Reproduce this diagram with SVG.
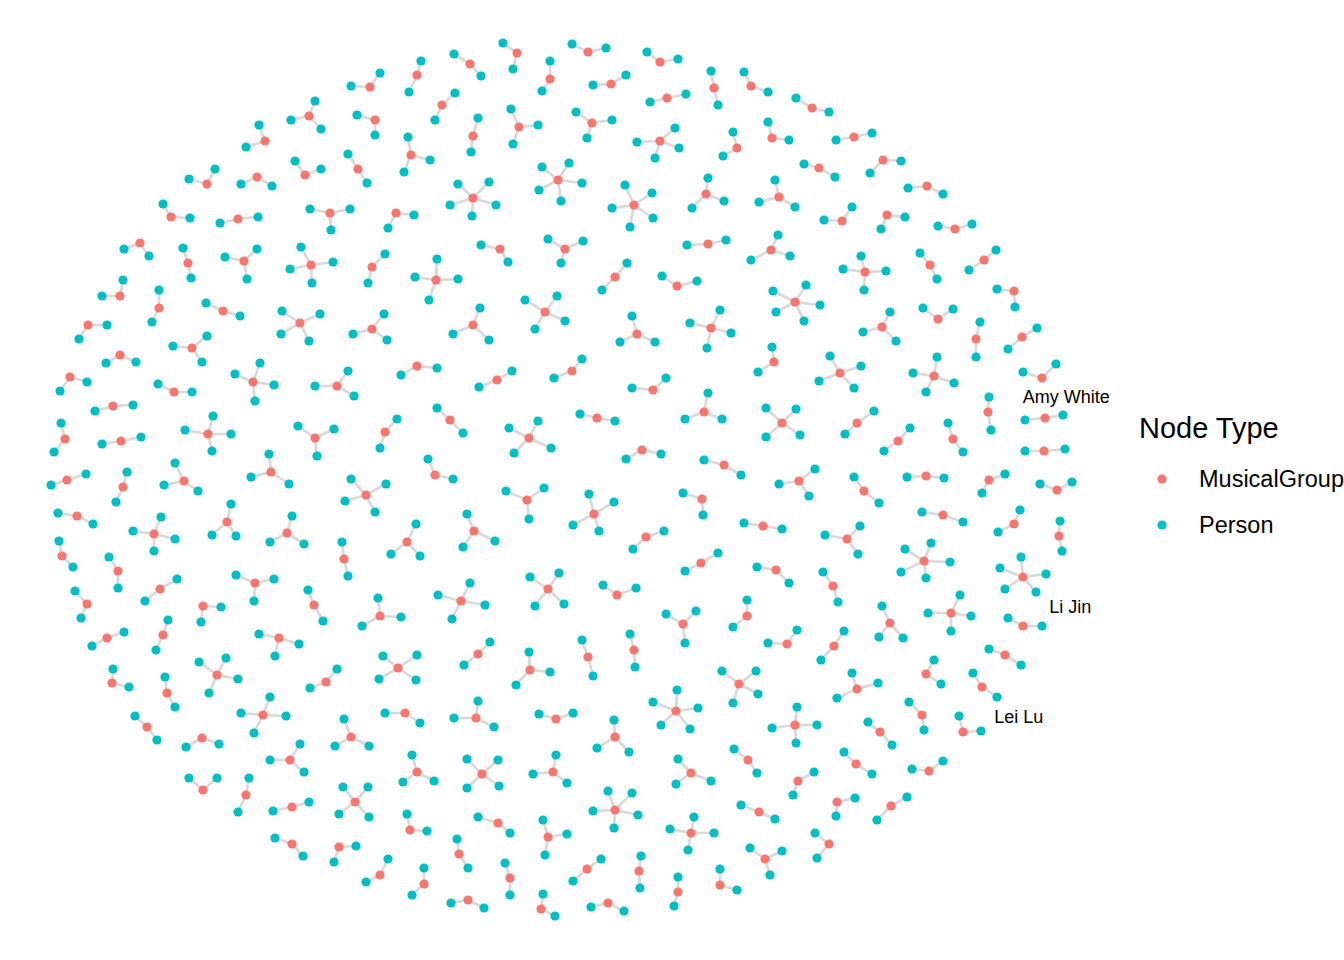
<svg xmlns="http://www.w3.org/2000/svg" width="1344" height="960" viewBox="0 0 1344 960">
<style>
#connectors path{stroke:#d9d9d9;stroke-width:2.7;fill:none;stroke-linecap:round;stroke-linejoin:round}
circle{fill:#00BFC4;r:4.6px}
circle.m{fill:#F8766D}
text{font-family:"Liberation Sans",Arial,Helvetica,sans-serif;fill:#000}
.lbl{font-size:18px}
.lt{font-size:29px}
.lk{font-size:23.5px}
</style>
<rect width="1344" height="960" fill="#fff"/>
<g id="connectors">
<path d="M380 73L370 87L351 86"/>
<path d="M315 101L309 116L291 120M309 116L321 129"/>
<path d="M357 115L375 120L375 135"/>
<path d="M259 125L265 141L246 147"/>
<path d="M295 161L305 175L321 169"/>
<path d="M348 154L358 169L367 183"/>
<path d="M189 179L207 184L215 169"/>
<path d="M241 184L257 177L272 186"/>
<path d="M163 204L171 217L190 218"/>
<path d="M220 223L238 219L258 217"/>
<path d="M310 209L330 213L350 209M330 213L331 230"/>
<path d="M124 249L140 243L149 256"/>
<path d="M183 248L188 263L191 278"/>
<path d="M225 257L244 261L257 249M244 261L247 279"/>
<path d="M301 247L311 265L333 262M311 265L290 269M311 265L312 283"/>
<path d="M385 254L372 267L368 283"/>
<path d="M388 228L396 213L414 215"/>
<path d="M123 280L120 296L102 296"/>
<path d="M159 290L159 308L152 322"/>
<path d="M206 303L223 311L240 316"/>
<path d="M282 311L300 323L320 314M300 323L281 334M300 323L309 341"/>
<path d="M384 314L372 329L353 334M372 329L387 340"/>
<path d="M107 325L88 325L79 339"/>
<path d="M173 346L192 348L207 336M192 348L202 362"/>
<path d="M106 363L120 355L136 362"/>
<path d="M60 391L70 377L87 382"/>
<path d="M260 363L253 382L235 374M253 382L274 385M253 382L255 401"/>
<path d="M315 386L337 386L348 371M337 386L354 396"/>
<path d="M158 384L174 392L192 392"/>
<path d="M95 411L113 406L133 405"/>
<path d="M213 416L208 434L185 430M208 434L231 434M208 434L212 451"/>
<path d="M298 426L315 438L334 429M315 438L317 456"/>
<path d="M61 423L65 439L54 452"/>
<path d="M102 444L121 441L141 437"/>
<path d="M397 419L385 432L380 448"/>
<path d="M269 454L271 472L251 477M271 472L289 484"/>
<path d="M51 485L67 480L86 474"/>
<path d="M127 472L123 487L116 502"/>
<path d="M175 463L184 481L164 485M184 481L198 491"/>
<path d="M351 479L366 495L386 484M366 495L345 501M366 495L375 512"/>
<path d="M58 513L77 516L93 524"/>
<path d="M133 531L154 534L161 517M154 534L175 539M154 534L154 551"/>
<path d="M231 504L227 522L212 535M227 522L236 536"/>
<path d="M292 516L287 533L270 542M287 533L304 544"/>
<path d="M59 541L62 556L73 567"/>
<path d="M109 557L118 571L118 588"/>
<path d="M342 542L344 559L348 576"/>
<path d="M177 579L160 589L145 601"/>
<path d="M236 575L255 583L274 579M255 583L254 601"/>
<path d="M75 591L87 604L81 618"/>
<path d="M221 607L203 606L201 622"/>
<path d="M308 590L314 605L323 621"/>
<path d="M378 598L380 616L362 626M380 616L401 617"/>
<path d="M124 632L107 638L92 646"/>
<path d="M168 620L163 635L156 650"/>
<path d="M259 634L279 638L299 644M279 638L275 656"/>
<path d="M113 669L112 683L129 687"/>
<path d="M165 677L167 693L175 707"/>
<path d="M199 662L217 675L226 658M217 675L238 679M217 675L209 693"/>
<path d="M337 669L326 682L310 688"/>
<path d="M383 656L398 668L417 655M398 668L416 680M398 668L379 679"/>
<path d="M270 697L263 715L241 713M263 715L286 716M263 715L254 733"/>
<path d="M135 716L147 727L157 740"/>
<path d="M385 713L405 713L420 723"/>
<path d="M186 747L202 738L219 744"/>
<path d="M270 760L290 760L300 744M290 760L304 772"/>
<path d="M344 719L351 737L335 746M351 737L369 746"/>
<path d="M189 778L203 790L217 778"/>
<path d="M249 778L246 795L238 812"/>
<path d="M273 811L292 807L309 802"/>
<path d="M343 787L355 802L368 787M355 802L339 814M355 802L369 817"/>
<path d="M275 838L292 844L303 856"/>
<path d="M356 846L339 847L334 862"/>
<path d="M388 859L380 875L366 882"/>
<path d="M421 61L417 75L409 92"/>
<path d="M454 54L470 64L481 76"/>
<path d="M503 43L517 53L513 69"/>
<path d="M550 61L550 79L542 91"/>
<path d="M572 44L588 52L606 48"/>
<path d="M647 52L660 62L678 59"/>
<path d="M711 71L714 88L718 105"/>
<path d="M593 85L611 84L626 75"/>
<path d="M650 102L667 98L686 94"/>
<path d="M455 93L442 105L435 120"/>
<path d="M478 118L473 136L471 152"/>
<path d="M511 109L519 127L538 125M519 127L513 144"/>
<path d="M576 112L592 123L612 120M592 123L587 138"/>
<path d="M675 128L660 141L637 142M660 141L679 148M660 141L655 158"/>
<path d="M408 137L411 155L430 160M411 155L404 172"/>
<path d="M733 132L737 148L723 156"/>
<path d="M542 167L558 180L569 163M558 180L582 183M558 180L561 201M558 180L539 190"/>
<path d="M458 184L473 198L489 182M473 198L496 205M473 198L472 216M473 198L450 205"/>
<path d="M625 185L634 205L652 193M634 205L653 218M634 205L630 227M634 205L612 208"/>
<path d="M708 178L706 194L724 201M706 194L692 208"/>
<path d="M687 245L708 244L726 240"/>
<path d="M548 239L565 249L583 241M565 249L561 263"/>
<path d="M481 245L500 249L508 262"/>
<path d="M437 259L436 280L415 277M436 280L458 279M436 280L429 300"/>
<path d="M627 263L615 277L602 290"/>
<path d="M744 72L751 86L768 92"/>
<path d="M796 98L812 108L829 112"/>
<path d="M768 122L772 138L789 140"/>
<path d="M836 140L854 137L872 133"/>
<path d="M804 164L819 168L835 177"/>
<path d="M870 173L883 160L901 161"/>
<path d="M908 188L927 186L943 194"/>
<path d="M775 180L779 197L759 202M779 197L795 207"/>
<path d="M824 220L842 221L852 207"/>
<path d="M881 229L887 215L905 217"/>
<path d="M938 226L955 229L972 224"/>
<path d="M778 235L771 250L751 260M771 250L790 256"/>
<path d="M996 250L984 260L969 270"/>
<path d="M920 253L930 265L937 279"/>
<path d="M861 256L865 272L843 269M865 272L886 271M865 272L864 290"/>
<path d="M662 276L677 286L697 281"/>
<path d="M525 300L545 312L557 296M545 312L565 321M545 312L535 329"/>
<path d="M480 308L473 325L453 334M473 325L489 340"/>
<path d="M632 316L637 334L620 342M637 334L655 342"/>
<path d="M720 310L711 328L690 323M711 328L731 333M711 328L707 348"/>
<path d="M401 375L417 366L437 368"/>
<path d="M479 387L497 380L512 371"/>
<path d="M554 378L572 371L582 359"/>
<path d="M632 388L653 390L666 378"/>
<path d="M708 393L704 412L685 419M704 412L722 419"/>
<path d="M437 408L450 420L463 433"/>
<path d="M580 414L597 418L615 421"/>
<path d="M509 428L529 438L538 421M529 438L551 448M529 438L514 453"/>
<path d="M626 459L642 450L661 454"/>
<path d="M704 460L724 465L741 475"/>
<path d="M428 459L435 475L453 479"/>
<path d="M506 491L527 500L544 488M527 500L529 519"/>
<path d="M589 494L594 514L614 502M594 514L573 525M594 514L599 531"/>
<path d="M683 493L702 499L703 515"/>
<path d="M773 291L795 302L806 285M795 302L820 305M795 302L804 321M795 302L776 312"/>
<path d="M997 289L1014 291L1015 307"/>
<path d="M923 308L938 319L953 309"/>
<path d="M890 312L882 327L863 332M882 327L896 341"/>
<path d="M980 322L976 339L976 357"/>
<path d="M1037 328L1022 337L1008 349"/>
<path d="M772 347L774 362L758 372"/>
<path d="M830 356L840 373L861 366M840 373L819 381M840 373L854 388"/>
<path d="M937 357L934 376L913 373M934 376L954 383M934 376L926 392"/>
<path d="M1023 372L1042 378L1056 364"/>
<path d="M989 397L988 412L991 430"/>
<path d="M766 408L782 423L796 409M782 423L766 437M782 423L800 435"/>
<path d="M874 411L857 423L845 434"/>
<path d="M910 428L898 441L884 451"/>
<path d="M948 423L953 439L963 452"/>
<path d="M1025 420L1045 418L1063 415"/>
<path d="M1025 451L1044 451L1065 449"/>
<path d="M779 484L799 481L815 469M799 481L809 496"/>
<path d="M854 477L864 491L879 503"/>
<path d="M907 477L926 476L944 478"/>
<path d="M1005 474L989 480L982 493"/>
<path d="M1040 484L1057 490L1072 482"/>
<path d="M416 524L407 542L391 554M407 542L420 556"/>
<path d="M467 514L474 531L463 547M474 531L495 541"/>
<path d="M664 531L646 537L633 549"/>
<path d="M718 553L701 563L685 571"/>
<path d="M470 583L461 601L438 595M461 601L485 605M461 601L452 619"/>
<path d="M530 577L548 589L559 573M548 589L564 604M548 589L535 606"/>
<path d="M603 585L617 595L636 588"/>
<path d="M666 614L683 624L696 611M683 624L685 643"/>
<path d="M747 600L747 616L733 627"/>
<path d="M490 642L478 654L464 665"/>
<path d="M529 652L530 670L550 672M530 670L516 685"/>
<path d="M582 640L588 657L593 676"/>
<path d="M630 634L634 650L635 667"/>
<path d="M722 671L739 684L756 671M739 684L758 694M739 684L733 703"/>
<path d="M677 690L676 711L653 702M676 711L698 708M676 711L661 725M676 711L690 729"/>
<path d="M478 701L476 718L454 718M476 718L494 727"/>
<path d="M539 714L556 719L573 713"/>
<path d="M744 523L763 526L782 529"/>
<path d="M825 535L847 539L860 526M847 539L858 554"/>
<path d="M922 512L943 515L963 522"/>
<path d="M1020 510L1014 524L998 532"/>
<path d="M1060 521L1059 536L1062 551"/>
<path d="M905 549L924 561L931 543M924 561L950 562M924 561L926 578M924 561L901 572"/>
<path d="M1021 557L1023 577L1000 568M1023 577L1046 574M1023 577L1036 592M1023 577L1005 589"/>
<path d="M757 567L776 570L789 583"/>
<path d="M823 572L833 586L838 602"/>
<path d="M882 606L890 623L879 637M890 623L903 638"/>
<path d="M960 595L951 613L928 613M951 613L971 616M951 613L951 631"/>
<path d="M1008 618L1023 626L1042 626"/>
<path d="M768 643L787 644L797 630"/>
<path d="M844 631L834 646L821 660"/>
<path d="M989 649L1005 655L1021 665"/>
<path d="M934 660L926 674L941 684"/>
<path d="M852 673L857 689L878 683M857 689L837 698"/>
<path d="M973 673L982 687L997 697"/>
<path d="M797 707L795 725L772 728M795 725L817 725M795 725L796 743"/>
<path d="M909 702L922 715L924 730"/>
<path d="M959 716L963 732L981 731"/>
<path d="M614 720L615 737L597 748M615 737L629 752"/>
<path d="M412 755L417 772L403 782M417 772L434 781"/>
<path d="M467 759L482 774L498 760M482 774L467 788M482 774L499 786"/>
<path d="M556 755L553 772L533 774M553 772L567 783"/>
<path d="M678 759L691 773L676 784M691 773L711 781"/>
<path d="M734 749L748 760L757 773"/>
<path d="M608 791L615 810L632 793M615 810L593 811M615 810L638 815M615 810L614 828"/>
<path d="M407 814L410 830L427 831"/>
<path d="M478 817L498 823L510 833"/>
<path d="M543 820L548 837L567 834M548 837L545 855"/>
<path d="M694 817L691 833L670 829M691 833L714 833M691 833L688 850"/>
<path d="M457 839L459 854L468 868"/>
<path d="M505 863L510 878L510 895"/>
<path d="M601 859L587 869L573 881"/>
<path d="M641 856L639 871L640 888"/>
<path d="M424 868L424 884L412 895"/>
<path d="M451 903L468 900L484 908"/>
<path d="M543 894L541 909L555 916"/>
<path d="M591 907L608 903L624 911"/>
<path d="M678 877L678 892L674 906"/>
<path d="M720 869L720 885L737 890"/>
<path d="M868 722L880 732L892 745"/>
<path d="M844 752L856 764L872 774"/>
<path d="M912 769L929 771L943 761"/>
<path d="M814 772L798 781L793 795"/>
<path d="M741 805L759 812L775 819"/>
<path d="M855 798L837 802L836 816"/>
<path d="M907 797L891 806L877 820"/>
<path d="M750 848L765 859L782 851M765 859L770 875"/>
<path d="M815 833L829 844L817 858"/>
</g>
<g id="nodes">
<g id="n1"><circle class="m" cx="370" cy="87"/><circle cx="380" cy="73"/><circle cx="351" cy="86"/></g>
<g id="n2"><circle class="m" cx="309" cy="116"/><circle cx="315" cy="101"/><circle cx="291" cy="120"/><circle cx="321" cy="129"/></g>
<g id="n3"><circle class="m" cx="375" cy="120"/><circle cx="357" cy="115"/><circle cx="375" cy="135"/></g>
<g id="n4"><circle class="m" cx="265" cy="141"/><circle cx="259" cy="125"/><circle cx="246" cy="147"/></g>
<g id="n5"><circle class="m" cx="305" cy="175"/><circle cx="295" cy="161"/><circle cx="321" cy="169"/></g>
<g id="n6"><circle class="m" cx="358" cy="169"/><circle cx="348" cy="154"/><circle cx="367" cy="183"/></g>
<g id="n7"><circle class="m" cx="207" cy="184"/><circle cx="189" cy="179"/><circle cx="215" cy="169"/></g>
<g id="n8"><circle class="m" cx="257" cy="177"/><circle cx="241" cy="184"/><circle cx="272" cy="186"/></g>
<g id="n9"><circle class="m" cx="171" cy="217"/><circle cx="163" cy="204"/><circle cx="190" cy="218"/></g>
<g id="n10"><circle class="m" cx="238" cy="219"/><circle cx="220" cy="223"/><circle cx="258" cy="217"/></g>
<g id="n11"><circle class="m" cx="330" cy="213"/><circle cx="310" cy="209"/><circle cx="350" cy="209"/><circle cx="331" cy="230"/></g>
<g id="n12"><circle class="m" cx="140" cy="243"/><circle cx="124" cy="249"/><circle cx="149" cy="256"/></g>
<g id="n13"><circle class="m" cx="188" cy="263"/><circle cx="183" cy="248"/><circle cx="191" cy="278"/></g>
<g id="n14"><circle class="m" cx="244" cy="261"/><circle cx="225" cy="257"/><circle cx="257" cy="249"/><circle cx="247" cy="279"/></g>
<g id="n15"><circle class="m" cx="311" cy="265"/><circle cx="301" cy="247"/><circle cx="333" cy="262"/><circle cx="290" cy="269"/><circle cx="312" cy="283"/></g>
<g id="n16"><circle class="m" cx="372" cy="267"/><circle cx="385" cy="254"/><circle cx="368" cy="283"/></g>
<g id="n17"><circle class="m" cx="396" cy="213"/><circle cx="388" cy="228"/><circle cx="414" cy="215"/></g>
<g id="n18"><circle class="m" cx="120" cy="296"/><circle cx="123" cy="280"/><circle cx="102" cy="296"/></g>
<g id="n19"><circle class="m" cx="159" cy="308"/><circle cx="159" cy="290"/><circle cx="152" cy="322"/></g>
<g id="n20"><circle class="m" cx="223" cy="311"/><circle cx="206" cy="303"/><circle cx="240" cy="316"/></g>
<g id="n21"><circle class="m" cx="300" cy="323"/><circle cx="282" cy="311"/><circle cx="320" cy="314"/><circle cx="281" cy="334"/><circle cx="309" cy="341"/></g>
<g id="n22"><circle class="m" cx="372" cy="329"/><circle cx="384" cy="314"/><circle cx="353" cy="334"/><circle cx="387" cy="340"/></g>
<g id="n23"><circle class="m" cx="88" cy="325"/><circle cx="107" cy="325"/><circle cx="79" cy="339"/></g>
<g id="n24"><circle class="m" cx="192" cy="348"/><circle cx="173" cy="346"/><circle cx="207" cy="336"/><circle cx="202" cy="362"/></g>
<g id="n25"><circle class="m" cx="120" cy="355"/><circle cx="106" cy="363"/><circle cx="136" cy="362"/></g>
<g id="n26"><circle class="m" cx="70" cy="377"/><circle cx="60" cy="391"/><circle cx="87" cy="382"/></g>
<g id="n27"><circle class="m" cx="253" cy="382"/><circle cx="260" cy="363"/><circle cx="235" cy="374"/><circle cx="274" cy="385"/><circle cx="255" cy="401"/></g>
<g id="n28"><circle class="m" cx="337" cy="386"/><circle cx="315" cy="386"/><circle cx="348" cy="371"/><circle cx="354" cy="396"/></g>
<g id="n29"><circle class="m" cx="174" cy="392"/><circle cx="158" cy="384"/><circle cx="192" cy="392"/></g>
<g id="n30"><circle class="m" cx="113" cy="406"/><circle cx="95" cy="411"/><circle cx="133" cy="405"/></g>
<g id="n31"><circle class="m" cx="208" cy="434"/><circle cx="213" cy="416"/><circle cx="185" cy="430"/><circle cx="231" cy="434"/><circle cx="212" cy="451"/></g>
<g id="n32"><circle class="m" cx="315" cy="438"/><circle cx="298" cy="426"/><circle cx="334" cy="429"/><circle cx="317" cy="456"/></g>
<g id="n33"><circle class="m" cx="65" cy="439"/><circle cx="61" cy="423"/><circle cx="54" cy="452"/></g>
<g id="n34"><circle class="m" cx="121" cy="441"/><circle cx="102" cy="444"/><circle cx="141" cy="437"/></g>
<g id="n35"><circle class="m" cx="385" cy="432"/><circle cx="397" cy="419"/><circle cx="380" cy="448"/></g>
<g id="n36"><circle class="m" cx="271" cy="472"/><circle cx="269" cy="454"/><circle cx="251" cy="477"/><circle cx="289" cy="484"/></g>
<g id="n37"><circle class="m" cx="67" cy="480"/><circle cx="51" cy="485"/><circle cx="86" cy="474"/></g>
<g id="n38"><circle class="m" cx="123" cy="487"/><circle cx="127" cy="472"/><circle cx="116" cy="502"/></g>
<g id="n39"><circle class="m" cx="184" cy="481"/><circle cx="175" cy="463"/><circle cx="164" cy="485"/><circle cx="198" cy="491"/></g>
<g id="n40"><circle class="m" cx="366" cy="495"/><circle cx="351" cy="479"/><circle cx="386" cy="484"/><circle cx="345" cy="501"/><circle cx="375" cy="512"/></g>
<g id="n41"><circle class="m" cx="77" cy="516"/><circle cx="58" cy="513"/><circle cx="93" cy="524"/></g>
<g id="n42"><circle class="m" cx="154" cy="534"/><circle cx="133" cy="531"/><circle cx="161" cy="517"/><circle cx="175" cy="539"/><circle cx="154" cy="551"/></g>
<g id="n43"><circle class="m" cx="227" cy="522"/><circle cx="231" cy="504"/><circle cx="212" cy="535"/><circle cx="236" cy="536"/></g>
<g id="n44"><circle class="m" cx="287" cy="533"/><circle cx="292" cy="516"/><circle cx="270" cy="542"/><circle cx="304" cy="544"/></g>
<g id="n45"><circle class="m" cx="62" cy="556"/><circle cx="59" cy="541"/><circle cx="73" cy="567"/></g>
<g id="n46"><circle class="m" cx="118" cy="571"/><circle cx="109" cy="557"/><circle cx="118" cy="588"/></g>
<g id="n47"><circle class="m" cx="344" cy="559"/><circle cx="342" cy="542"/><circle cx="348" cy="576"/></g>
<g id="n48"><circle class="m" cx="160" cy="589"/><circle cx="177" cy="579"/><circle cx="145" cy="601"/></g>
<g id="n49"><circle class="m" cx="255" cy="583"/><circle cx="236" cy="575"/><circle cx="274" cy="579"/><circle cx="254" cy="601"/></g>
<g id="n50"><circle class="m" cx="87" cy="604"/><circle cx="75" cy="591"/><circle cx="81" cy="618"/></g>
<g id="n51"><circle class="m" cx="203" cy="606"/><circle cx="221" cy="607"/><circle cx="201" cy="622"/></g>
<g id="n52"><circle class="m" cx="314" cy="605"/><circle cx="308" cy="590"/><circle cx="323" cy="621"/></g>
<g id="n53"><circle class="m" cx="380" cy="616"/><circle cx="378" cy="598"/><circle cx="362" cy="626"/><circle cx="401" cy="617"/></g>
<g id="n54"><circle class="m" cx="107" cy="638"/><circle cx="124" cy="632"/><circle cx="92" cy="646"/></g>
<g id="n55"><circle class="m" cx="163" cy="635"/><circle cx="168" cy="620"/><circle cx="156" cy="650"/></g>
<g id="n56"><circle class="m" cx="279" cy="638"/><circle cx="259" cy="634"/><circle cx="299" cy="644"/><circle cx="275" cy="656"/></g>
<g id="n57"><circle class="m" cx="112" cy="683"/><circle cx="113" cy="669"/><circle cx="129" cy="687"/></g>
<g id="n58"><circle class="m" cx="167" cy="693"/><circle cx="165" cy="677"/><circle cx="175" cy="707"/></g>
<g id="n59"><circle class="m" cx="217" cy="675"/><circle cx="199" cy="662"/><circle cx="226" cy="658"/><circle cx="238" cy="679"/><circle cx="209" cy="693"/></g>
<g id="n60"><circle class="m" cx="326" cy="682"/><circle cx="337" cy="669"/><circle cx="310" cy="688"/></g>
<g id="n61"><circle class="m" cx="398" cy="668"/><circle cx="383" cy="656"/><circle cx="417" cy="655"/><circle cx="416" cy="680"/><circle cx="379" cy="679"/></g>
<g id="n62"><circle class="m" cx="263" cy="715"/><circle cx="270" cy="697"/><circle cx="241" cy="713"/><circle cx="286" cy="716"/><circle cx="254" cy="733"/></g>
<g id="n63"><circle class="m" cx="147" cy="727"/><circle cx="135" cy="716"/><circle cx="157" cy="740"/></g>
<g id="n64"><circle class="m" cx="405" cy="713"/><circle cx="385" cy="713"/><circle cx="420" cy="723"/></g>
<g id="n65"><circle class="m" cx="202" cy="738"/><circle cx="186" cy="747"/><circle cx="219" cy="744"/></g>
<g id="n66"><circle class="m" cx="290" cy="760"/><circle cx="270" cy="760"/><circle cx="300" cy="744"/><circle cx="304" cy="772"/></g>
<g id="n67"><circle class="m" cx="351" cy="737"/><circle cx="344" cy="719"/><circle cx="335" cy="746"/><circle cx="369" cy="746"/></g>
<g id="n68"><circle class="m" cx="203" cy="790"/><circle cx="189" cy="778"/><circle cx="217" cy="778"/></g>
<g id="n69"><circle class="m" cx="246" cy="795"/><circle cx="249" cy="778"/><circle cx="238" cy="812"/></g>
<g id="n70"><circle class="m" cx="292" cy="807"/><circle cx="273" cy="811"/><circle cx="309" cy="802"/></g>
<g id="n71"><circle class="m" cx="355" cy="802"/><circle cx="343" cy="787"/><circle cx="368" cy="787"/><circle cx="339" cy="814"/><circle cx="369" cy="817"/></g>
<g id="n72"><circle class="m" cx="292" cy="844"/><circle cx="275" cy="838"/><circle cx="303" cy="856"/></g>
<g id="n73"><circle class="m" cx="339" cy="847"/><circle cx="356" cy="846"/><circle cx="334" cy="862"/></g>
<g id="n74"><circle class="m" cx="380" cy="875"/><circle cx="388" cy="859"/><circle cx="366" cy="882"/></g>
<g id="n75"><circle class="m" cx="417" cy="75"/><circle cx="421" cy="61"/><circle cx="409" cy="92"/></g>
<g id="n76"><circle class="m" cx="470" cy="64"/><circle cx="454" cy="54"/><circle cx="481" cy="76"/></g>
<g id="n77"><circle class="m" cx="517" cy="53"/><circle cx="503" cy="43"/><circle cx="513" cy="69"/></g>
<g id="n78"><circle class="m" cx="550" cy="79"/><circle cx="550" cy="61"/><circle cx="542" cy="91"/></g>
<g id="n79"><circle class="m" cx="588" cy="52"/><circle cx="572" cy="44"/><circle cx="606" cy="48"/></g>
<g id="n80"><circle class="m" cx="660" cy="62"/><circle cx="647" cy="52"/><circle cx="678" cy="59"/></g>
<g id="n81"><circle class="m" cx="714" cy="88"/><circle cx="711" cy="71"/><circle cx="718" cy="105"/></g>
<g id="n82"><circle class="m" cx="611" cy="84"/><circle cx="593" cy="85"/><circle cx="626" cy="75"/></g>
<g id="n83"><circle class="m" cx="667" cy="98"/><circle cx="650" cy="102"/><circle cx="686" cy="94"/></g>
<g id="n84"><circle class="m" cx="442" cy="105"/><circle cx="455" cy="93"/><circle cx="435" cy="120"/></g>
<g id="n85"><circle class="m" cx="473" cy="136"/><circle cx="478" cy="118"/><circle cx="471" cy="152"/></g>
<g id="n86"><circle class="m" cx="519" cy="127"/><circle cx="511" cy="109"/><circle cx="538" cy="125"/><circle cx="513" cy="144"/></g>
<g id="n87"><circle class="m" cx="592" cy="123"/><circle cx="576" cy="112"/><circle cx="612" cy="120"/><circle cx="587" cy="138"/></g>
<g id="n88"><circle class="m" cx="660" cy="141"/><circle cx="675" cy="128"/><circle cx="637" cy="142"/><circle cx="679" cy="148"/><circle cx="655" cy="158"/></g>
<g id="n89"><circle class="m" cx="411" cy="155"/><circle cx="408" cy="137"/><circle cx="430" cy="160"/><circle cx="404" cy="172"/></g>
<g id="n90"><circle class="m" cx="737" cy="148"/><circle cx="733" cy="132"/><circle cx="723" cy="156"/></g>
<g id="n91"><circle class="m" cx="558" cy="180"/><circle cx="542" cy="167"/><circle cx="569" cy="163"/><circle cx="582" cy="183"/><circle cx="561" cy="201"/><circle cx="539" cy="190"/></g>
<g id="n92"><circle class="m" cx="473" cy="198"/><circle cx="458" cy="184"/><circle cx="489" cy="182"/><circle cx="496" cy="205"/><circle cx="472" cy="216"/><circle cx="450" cy="205"/></g>
<g id="n93"><circle class="m" cx="634" cy="205"/><circle cx="625" cy="185"/><circle cx="652" cy="193"/><circle cx="653" cy="218"/><circle cx="630" cy="227"/><circle cx="612" cy="208"/></g>
<g id="n94"><circle class="m" cx="706" cy="194"/><circle cx="708" cy="178"/><circle cx="724" cy="201"/><circle cx="692" cy="208"/></g>
<g id="n95"><circle class="m" cx="708" cy="244"/><circle cx="687" cy="245"/><circle cx="726" cy="240"/></g>
<g id="n96"><circle class="m" cx="565" cy="249"/><circle cx="548" cy="239"/><circle cx="583" cy="241"/><circle cx="561" cy="263"/></g>
<g id="n97"><circle class="m" cx="500" cy="249"/><circle cx="481" cy="245"/><circle cx="508" cy="262"/></g>
<g id="n98"><circle class="m" cx="436" cy="280"/><circle cx="437" cy="259"/><circle cx="415" cy="277"/><circle cx="458" cy="279"/><circle cx="429" cy="300"/></g>
<g id="n99"><circle class="m" cx="615" cy="277"/><circle cx="627" cy="263"/><circle cx="602" cy="290"/></g>
<g id="n100"><circle class="m" cx="751" cy="86"/><circle cx="744" cy="72"/><circle cx="768" cy="92"/></g>
<g id="n101"><circle class="m" cx="812" cy="108"/><circle cx="796" cy="98"/><circle cx="829" cy="112"/></g>
<g id="n102"><circle class="m" cx="772" cy="138"/><circle cx="768" cy="122"/><circle cx="789" cy="140"/></g>
<g id="n103"><circle class="m" cx="854" cy="137"/><circle cx="836" cy="140"/><circle cx="872" cy="133"/></g>
<g id="n104"><circle class="m" cx="819" cy="168"/><circle cx="804" cy="164"/><circle cx="835" cy="177"/></g>
<g id="n105"><circle class="m" cx="883" cy="160"/><circle cx="870" cy="173"/><circle cx="901" cy="161"/></g>
<g id="n106"><circle class="m" cx="927" cy="186"/><circle cx="908" cy="188"/><circle cx="943" cy="194"/></g>
<g id="n107"><circle class="m" cx="779" cy="197"/><circle cx="775" cy="180"/><circle cx="759" cy="202"/><circle cx="795" cy="207"/></g>
<g id="n108"><circle class="m" cx="842" cy="221"/><circle cx="824" cy="220"/><circle cx="852" cy="207"/></g>
<g id="n109"><circle class="m" cx="887" cy="215"/><circle cx="881" cy="229"/><circle cx="905" cy="217"/></g>
<g id="n110"><circle class="m" cx="955" cy="229"/><circle cx="938" cy="226"/><circle cx="972" cy="224"/></g>
<g id="n111"><circle class="m" cx="771" cy="250"/><circle cx="778" cy="235"/><circle cx="751" cy="260"/><circle cx="790" cy="256"/></g>
<g id="n112"><circle class="m" cx="984" cy="260"/><circle cx="996" cy="250"/><circle cx="969" cy="270"/></g>
<g id="n113"><circle class="m" cx="930" cy="265"/><circle cx="920" cy="253"/><circle cx="937" cy="279"/></g>
<g id="n114"><circle class="m" cx="865" cy="272"/><circle cx="861" cy="256"/><circle cx="843" cy="269"/><circle cx="886" cy="271"/><circle cx="864" cy="290"/></g>
<g id="n115"><circle class="m" cx="677" cy="286"/><circle cx="662" cy="276"/><circle cx="697" cy="281"/></g>
<g id="n116"><circle class="m" cx="545" cy="312"/><circle cx="525" cy="300"/><circle cx="557" cy="296"/><circle cx="565" cy="321"/><circle cx="535" cy="329"/></g>
<g id="n117"><circle class="m" cx="473" cy="325"/><circle cx="480" cy="308"/><circle cx="453" cy="334"/><circle cx="489" cy="340"/></g>
<g id="n118"><circle class="m" cx="637" cy="334"/><circle cx="632" cy="316"/><circle cx="620" cy="342"/><circle cx="655" cy="342"/></g>
<g id="n119"><circle class="m" cx="711" cy="328"/><circle cx="720" cy="310"/><circle cx="690" cy="323"/><circle cx="731" cy="333"/><circle cx="707" cy="348"/></g>
<g id="n120"><circle class="m" cx="417" cy="366"/><circle cx="401" cy="375"/><circle cx="437" cy="368"/></g>
<g id="n121"><circle class="m" cx="497" cy="380"/><circle cx="479" cy="387"/><circle cx="512" cy="371"/></g>
<g id="n122"><circle class="m" cx="572" cy="371"/><circle cx="554" cy="378"/><circle cx="582" cy="359"/></g>
<g id="n123"><circle class="m" cx="653" cy="390"/><circle cx="632" cy="388"/><circle cx="666" cy="378"/></g>
<g id="n124"><circle class="m" cx="704" cy="412"/><circle cx="708" cy="393"/><circle cx="685" cy="419"/><circle cx="722" cy="419"/></g>
<g id="n125"><circle class="m" cx="450" cy="420"/><circle cx="437" cy="408"/><circle cx="463" cy="433"/></g>
<g id="n126"><circle class="m" cx="597" cy="418"/><circle cx="580" cy="414"/><circle cx="615" cy="421"/></g>
<g id="n127"><circle class="m" cx="529" cy="438"/><circle cx="509" cy="428"/><circle cx="538" cy="421"/><circle cx="551" cy="448"/><circle cx="514" cy="453"/></g>
<g id="n128"><circle class="m" cx="642" cy="450"/><circle cx="626" cy="459"/><circle cx="661" cy="454"/></g>
<g id="n129"><circle class="m" cx="724" cy="465"/><circle cx="704" cy="460"/><circle cx="741" cy="475"/></g>
<g id="n130"><circle class="m" cx="435" cy="475"/><circle cx="428" cy="459"/><circle cx="453" cy="479"/></g>
<g id="n131"><circle class="m" cx="527" cy="500"/><circle cx="506" cy="491"/><circle cx="544" cy="488"/><circle cx="529" cy="519"/></g>
<g id="n132"><circle class="m" cx="594" cy="514"/><circle cx="589" cy="494"/><circle cx="614" cy="502"/><circle cx="573" cy="525"/><circle cx="599" cy="531"/></g>
<g id="n133"><circle class="m" cx="702" cy="499"/><circle cx="683" cy="493"/><circle cx="703" cy="515"/></g>
<g id="n134"><circle class="m" cx="795" cy="302"/><circle cx="773" cy="291"/><circle cx="806" cy="285"/><circle cx="820" cy="305"/><circle cx="804" cy="321"/><circle cx="776" cy="312"/></g>
<g id="n135"><circle class="m" cx="1014" cy="291"/><circle cx="997" cy="289"/><circle cx="1015" cy="307"/></g>
<g id="n136"><circle class="m" cx="938" cy="319"/><circle cx="923" cy="308"/><circle cx="953" cy="309"/></g>
<g id="n137"><circle class="m" cx="882" cy="327"/><circle cx="890" cy="312"/><circle cx="863" cy="332"/><circle cx="896" cy="341"/></g>
<g id="n138"><circle class="m" cx="976" cy="339"/><circle cx="980" cy="322"/><circle cx="976" cy="357"/></g>
<g id="n139"><circle class="m" cx="1022" cy="337"/><circle cx="1037" cy="328"/><circle cx="1008" cy="349"/></g>
<g id="n140"><circle class="m" cx="774" cy="362"/><circle cx="772" cy="347"/><circle cx="758" cy="372"/></g>
<g id="n141"><circle class="m" cx="840" cy="373"/><circle cx="830" cy="356"/><circle cx="861" cy="366"/><circle cx="819" cy="381"/><circle cx="854" cy="388"/></g>
<g id="n142"><circle class="m" cx="934" cy="376"/><circle cx="937" cy="357"/><circle cx="913" cy="373"/><circle cx="954" cy="383"/><circle cx="926" cy="392"/></g>
<g id="n143"><circle class="m" cx="1042" cy="378"/><circle cx="1023" cy="372"/><circle cx="1056" cy="364"/></g>
<g id="n144"><circle class="m" cx="988" cy="412"/><circle cx="989" cy="397"/><circle cx="991" cy="430"/></g>
<g id="n145"><circle class="m" cx="782" cy="423"/><circle cx="766" cy="408"/><circle cx="796" cy="409"/><circle cx="766" cy="437"/><circle cx="800" cy="435"/></g>
<g id="n146"><circle class="m" cx="857" cy="423"/><circle cx="874" cy="411"/><circle cx="845" cy="434"/></g>
<g id="n147"><circle class="m" cx="898" cy="441"/><circle cx="910" cy="428"/><circle cx="884" cy="451"/></g>
<g id="n148"><circle class="m" cx="953" cy="439"/><circle cx="948" cy="423"/><circle cx="963" cy="452"/></g>
<g id="n149"><circle class="m" cx="1045" cy="418"/><circle cx="1025" cy="420"/><circle cx="1063" cy="415"/></g>
<g id="n150"><circle class="m" cx="1044" cy="451"/><circle cx="1025" cy="451"/><circle cx="1065" cy="449"/></g>
<g id="n151"><circle class="m" cx="799" cy="481"/><circle cx="779" cy="484"/><circle cx="815" cy="469"/><circle cx="809" cy="496"/></g>
<g id="n152"><circle class="m" cx="864" cy="491"/><circle cx="854" cy="477"/><circle cx="879" cy="503"/></g>
<g id="n153"><circle class="m" cx="926" cy="476"/><circle cx="907" cy="477"/><circle cx="944" cy="478"/></g>
<g id="n154"><circle class="m" cx="989" cy="480"/><circle cx="1005" cy="474"/><circle cx="982" cy="493"/></g>
<g id="n155"><circle class="m" cx="1057" cy="490"/><circle cx="1040" cy="484"/><circle cx="1072" cy="482"/></g>
<g id="n156"><circle class="m" cx="407" cy="542"/><circle cx="416" cy="524"/><circle cx="391" cy="554"/><circle cx="420" cy="556"/></g>
<g id="n157"><circle class="m" cx="474" cy="531"/><circle cx="467" cy="514"/><circle cx="463" cy="547"/><circle cx="495" cy="541"/></g>
<g id="n158"><circle class="m" cx="646" cy="537"/><circle cx="664" cy="531"/><circle cx="633" cy="549"/></g>
<g id="n159"><circle class="m" cx="701" cy="563"/><circle cx="718" cy="553"/><circle cx="685" cy="571"/></g>
<g id="n160"><circle class="m" cx="461" cy="601"/><circle cx="470" cy="583"/><circle cx="438" cy="595"/><circle cx="485" cy="605"/><circle cx="452" cy="619"/></g>
<g id="n161"><circle class="m" cx="548" cy="589"/><circle cx="530" cy="577"/><circle cx="559" cy="573"/><circle cx="564" cy="604"/><circle cx="535" cy="606"/></g>
<g id="n162"><circle class="m" cx="617" cy="595"/><circle cx="603" cy="585"/><circle cx="636" cy="588"/></g>
<g id="n163"><circle class="m" cx="683" cy="624"/><circle cx="666" cy="614"/><circle cx="696" cy="611"/><circle cx="685" cy="643"/></g>
<g id="n164"><circle class="m" cx="747" cy="616"/><circle cx="747" cy="600"/><circle cx="733" cy="627"/></g>
<g id="n165"><circle class="m" cx="478" cy="654"/><circle cx="490" cy="642"/><circle cx="464" cy="665"/></g>
<g id="n166"><circle class="m" cx="530" cy="670"/><circle cx="529" cy="652"/><circle cx="550" cy="672"/><circle cx="516" cy="685"/></g>
<g id="n167"><circle class="m" cx="588" cy="657"/><circle cx="582" cy="640"/><circle cx="593" cy="676"/></g>
<g id="n168"><circle class="m" cx="634" cy="650"/><circle cx="630" cy="634"/><circle cx="635" cy="667"/></g>
<g id="n169"><circle class="m" cx="739" cy="684"/><circle cx="722" cy="671"/><circle cx="756" cy="671"/><circle cx="758" cy="694"/><circle cx="733" cy="703"/></g>
<g id="n170"><circle class="m" cx="676" cy="711"/><circle cx="677" cy="690"/><circle cx="653" cy="702"/><circle cx="698" cy="708"/><circle cx="661" cy="725"/><circle cx="690" cy="729"/></g>
<g id="n171"><circle class="m" cx="476" cy="718"/><circle cx="478" cy="701"/><circle cx="454" cy="718"/><circle cx="494" cy="727"/></g>
<g id="n172"><circle class="m" cx="556" cy="719"/><circle cx="539" cy="714"/><circle cx="573" cy="713"/></g>
<g id="n173"><circle class="m" cx="763" cy="526"/><circle cx="744" cy="523"/><circle cx="782" cy="529"/></g>
<g id="n174"><circle class="m" cx="847" cy="539"/><circle cx="825" cy="535"/><circle cx="860" cy="526"/><circle cx="858" cy="554"/></g>
<g id="n175"><circle class="m" cx="943" cy="515"/><circle cx="922" cy="512"/><circle cx="963" cy="522"/></g>
<g id="n176"><circle class="m" cx="1014" cy="524"/><circle cx="1020" cy="510"/><circle cx="998" cy="532"/></g>
<g id="n177"><circle class="m" cx="1059" cy="536"/><circle cx="1060" cy="521"/><circle cx="1062" cy="551"/></g>
<g id="n178"><circle class="m" cx="924" cy="561"/><circle cx="905" cy="549"/><circle cx="931" cy="543"/><circle cx="950" cy="562"/><circle cx="926" cy="578"/><circle cx="901" cy="572"/></g>
<g id="n179"><circle class="m" cx="1023" cy="577"/><circle cx="1021" cy="557"/><circle cx="1000" cy="568"/><circle cx="1046" cy="574"/><circle cx="1036" cy="592"/><circle cx="1005" cy="589"/></g>
<g id="n180"><circle class="m" cx="776" cy="570"/><circle cx="757" cy="567"/><circle cx="789" cy="583"/></g>
<g id="n181"><circle class="m" cx="833" cy="586"/><circle cx="823" cy="572"/><circle cx="838" cy="602"/></g>
<g id="n182"><circle class="m" cx="890" cy="623"/><circle cx="882" cy="606"/><circle cx="879" cy="637"/><circle cx="903" cy="638"/></g>
<g id="n183"><circle class="m" cx="951" cy="613"/><circle cx="960" cy="595"/><circle cx="928" cy="613"/><circle cx="971" cy="616"/><circle cx="951" cy="631"/></g>
<g id="n184"><circle class="m" cx="1023" cy="626"/><circle cx="1008" cy="618"/><circle cx="1042" cy="626"/></g>
<g id="n185"><circle class="m" cx="787" cy="644"/><circle cx="768" cy="643"/><circle cx="797" cy="630"/></g>
<g id="n186"><circle class="m" cx="834" cy="646"/><circle cx="844" cy="631"/><circle cx="821" cy="660"/></g>
<g id="n187"><circle class="m" cx="1005" cy="655"/><circle cx="989" cy="649"/><circle cx="1021" cy="665"/></g>
<g id="n188"><circle class="m" cx="926" cy="674"/><circle cx="934" cy="660"/><circle cx="941" cy="684"/></g>
<g id="n189"><circle class="m" cx="857" cy="689"/><circle cx="852" cy="673"/><circle cx="878" cy="683"/><circle cx="837" cy="698"/></g>
<g id="n190"><circle class="m" cx="982" cy="687"/><circle cx="973" cy="673"/><circle cx="997" cy="697"/></g>
<g id="n191"><circle class="m" cx="795" cy="725"/><circle cx="797" cy="707"/><circle cx="772" cy="728"/><circle cx="817" cy="725"/><circle cx="796" cy="743"/></g>
<g id="n192"><circle class="m" cx="922" cy="715"/><circle cx="909" cy="702"/><circle cx="924" cy="730"/></g>
<g id="n193"><circle class="m" cx="963" cy="732"/><circle cx="959" cy="716"/><circle cx="981" cy="731"/></g>
<g id="n194"><circle class="m" cx="615" cy="737"/><circle cx="614" cy="720"/><circle cx="597" cy="748"/><circle cx="629" cy="752"/></g>
<g id="n195"><circle class="m" cx="417" cy="772"/><circle cx="412" cy="755"/><circle cx="403" cy="782"/><circle cx="434" cy="781"/></g>
<g id="n196"><circle class="m" cx="482" cy="774"/><circle cx="467" cy="759"/><circle cx="498" cy="760"/><circle cx="467" cy="788"/><circle cx="499" cy="786"/></g>
<g id="n197"><circle class="m" cx="553" cy="772"/><circle cx="556" cy="755"/><circle cx="533" cy="774"/><circle cx="567" cy="783"/></g>
<g id="n198"><circle class="m" cx="691" cy="773"/><circle cx="678" cy="759"/><circle cx="676" cy="784"/><circle cx="711" cy="781"/></g>
<g id="n199"><circle class="m" cx="748" cy="760"/><circle cx="734" cy="749"/><circle cx="757" cy="773"/></g>
<g id="n200"><circle class="m" cx="615" cy="810"/><circle cx="608" cy="791"/><circle cx="632" cy="793"/><circle cx="593" cy="811"/><circle cx="638" cy="815"/><circle cx="614" cy="828"/></g>
<g id="n201"><circle class="m" cx="410" cy="830"/><circle cx="407" cy="814"/><circle cx="427" cy="831"/></g>
<g id="n202"><circle class="m" cx="498" cy="823"/><circle cx="478" cy="817"/><circle cx="510" cy="833"/></g>
<g id="n203"><circle class="m" cx="548" cy="837"/><circle cx="543" cy="820"/><circle cx="567" cy="834"/><circle cx="545" cy="855"/></g>
<g id="n204"><circle class="m" cx="691" cy="833"/><circle cx="694" cy="817"/><circle cx="670" cy="829"/><circle cx="714" cy="833"/><circle cx="688" cy="850"/></g>
<g id="n205"><circle class="m" cx="459" cy="854"/><circle cx="457" cy="839"/><circle cx="468" cy="868"/></g>
<g id="n206"><circle class="m" cx="510" cy="878"/><circle cx="505" cy="863"/><circle cx="510" cy="895"/></g>
<g id="n207"><circle class="m" cx="587" cy="869"/><circle cx="601" cy="859"/><circle cx="573" cy="881"/></g>
<g id="n208"><circle class="m" cx="639" cy="871"/><circle cx="641" cy="856"/><circle cx="640" cy="888"/></g>
<g id="n209"><circle class="m" cx="424" cy="884"/><circle cx="424" cy="868"/><circle cx="412" cy="895"/></g>
<g id="n210"><circle class="m" cx="468" cy="900"/><circle cx="451" cy="903"/><circle cx="484" cy="908"/></g>
<g id="n211"><circle class="m" cx="541" cy="909"/><circle cx="543" cy="894"/><circle cx="555" cy="916"/></g>
<g id="n212"><circle class="m" cx="608" cy="903"/><circle cx="591" cy="907"/><circle cx="624" cy="911"/></g>
<g id="n213"><circle class="m" cx="678" cy="892"/><circle cx="678" cy="877"/><circle cx="674" cy="906"/></g>
<g id="n214"><circle class="m" cx="720" cy="885"/><circle cx="720" cy="869"/><circle cx="737" cy="890"/></g>
<g id="n215"><circle class="m" cx="880" cy="732"/><circle cx="868" cy="722"/><circle cx="892" cy="745"/></g>
<g id="n216"><circle class="m" cx="856" cy="764"/><circle cx="844" cy="752"/><circle cx="872" cy="774"/></g>
<g id="n217"><circle class="m" cx="929" cy="771"/><circle cx="912" cy="769"/><circle cx="943" cy="761"/></g>
<g id="n218"><circle class="m" cx="798" cy="781"/><circle cx="814" cy="772"/><circle cx="793" cy="795"/></g>
<g id="n219"><circle class="m" cx="759" cy="812"/><circle cx="741" cy="805"/><circle cx="775" cy="819"/></g>
<g id="n220"><circle class="m" cx="837" cy="802"/><circle cx="855" cy="798"/><circle cx="836" cy="816"/></g>
<g id="n221"><circle class="m" cx="891" cy="806"/><circle cx="907" cy="797"/><circle cx="877" cy="820"/></g>
<g id="n222"><circle class="m" cx="765" cy="859"/><circle cx="750" cy="848"/><circle cx="782" cy="851"/><circle cx="770" cy="875"/></g>
<g id="n223"><circle class="m" cx="829" cy="844"/><circle cx="815" cy="833"/><circle cx="817" cy="858"/></g>
</g>
<g id="labels">
<text class="lbl" x="1022.7" y="402.7">Amy White</text>
<text class="lbl" x="1049.3" y="613.3">Li Jin</text>
<text class="lbl" x="994.3" y="723.3">Lei Lu</text>
</g>
<g id="legend">
<text class="lt" x="1139" y="438">Node Type</text>
<circle class="m" cx="1162" cy="479"/>
<text class="lk" x="1199" y="487">MusicalGroup</text>
<circle cx="1162" cy="525"/>
<text class="lk" x="1199" y="533">Person</text>
</g>
</svg>
